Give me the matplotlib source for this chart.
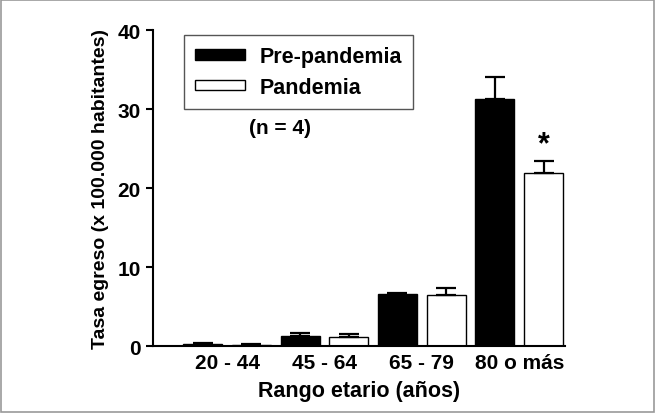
import matplotlib.pyplot as plt
import numpy as np
from matplotlib.patches import Rectangle

groups = ["20 - 44", "45 - 64", "65 - 79", "80 o más"]
pre_vals = [0.3, 1.3, 6.6, 31.3]
pre_err = [0.1, 0.35, 0.15, 2.8]
pan_vals = [0.15, 1.2, 6.5, 21.9]
pan_err = [0.05, 0.3, 0.9, 1.55]

plt.rcParams['font.family'] = ['Liberation Sans', 'DejaVu Sans']
plt.rcParams['font.weight'] = 'bold'
plt.rcParams['axes.labelweight'] = 'bold'

fig = plt.figure(figsize=(6.55, 4.14), dpi=100)
ax = fig.add_axes([0.2336, 0.1618, 0.629, 0.7632])

# frame around whole figure
fig.patches.append(Rectangle((0.002, 0.002), 0.996, 0.995, transform=fig.transFigure,
                             fill=False, edgecolor="#999999", linewidth=1.2))

idx = np.arange(len(groups))
pre_x = idx * 2
pan_x = idx * 2 + 1
w = 0.8

ax.bar(pre_x, pre_vals, w, color="black", edgecolor="black", linewidth=1,
       label="Pre-pandemia")
ax.bar(pan_x, pan_vals, w, color="white", edgecolor="black", linewidth=1,
       label="Pandemia")
ax.errorbar(pre_x, pre_vals, yerr=[np.zeros(4), pre_err], fmt="none",
            ecolor="black", elinewidth=1.6, capsize=7.5, capthick=1.6)
ax.errorbar(pan_x, pan_vals, yerr=[np.zeros(4), pan_err], fmt="none",
            ecolor="black", elinewidth=1.6, capsize=7.5, capthick=1.6)

ax.text(pan_x[3], pan_vals[3] + pan_err[3] + 0.2, "*", ha="center", va="bottom",
        fontsize=22, fontweight="bold")

ax.set_xlim(-1.02, 7.44)
ax.set_ylim(0, 40)
ax.set_yticks([0, 10, 20, 30, 40])
ax.set_xticks(idx * 2 + 0.5)
ax.set_xticklabels(groups, fontweight="bold")
ax.set_yticklabels(["0", "10", "20", "30", "40"], fontweight="bold")
ax.tick_params(axis="x", length=0, labelsize=15, pad=5)
ax.tick_params(axis="y", direction="out", length=5, width=1.5, labelsize=15, pad=4)
ax.spines["top"].set_visible(False)
ax.spines["right"].set_visible(False)
ax.spines["left"].set_linewidth(1.5)
ax.spines["bottom"].set_linewidth(1.5)

ax.set_xlabel("Rango etario (años)", fontsize=15.5, fontweight="bold", labelpad=6)
ax.set_ylabel("Tasa egreso (x 100.000 habitantes)", fontsize=14, fontweight="bold", labelpad=6)

leg = ax.legend(loc="upper left", bbox_to_anchor=(0.075, 0.983), fancybox=False,
                edgecolor="#555555", framealpha=1, handlelength=2.35,
                handleheight=0.37, borderpad=0.5, labelspacing=0.45, handletextpad=0.65,
                borderaxespad=0, prop={"size": 15.5, "weight": "bold"})
leg.get_frame().set_linewidth(1)

ax.text(0.308, 0.693, "(n = 4)", transform=ax.transAxes, ha="center", va="center",
        fontsize=15, fontweight="bold")

fig.savefig("out.png", dpi=100)
